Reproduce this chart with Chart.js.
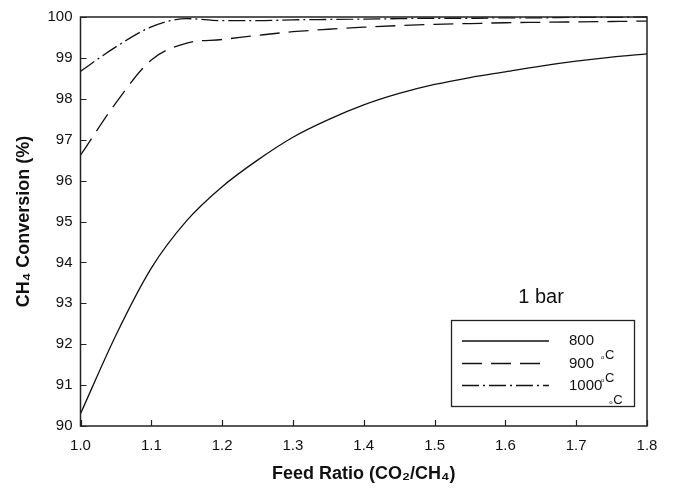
<!DOCTYPE html>
<html>
<head>
<meta charset="utf-8">
<script src="https://cdn.jsdelivr.net/npm/chart.js@4/dist/chart.umd.min.js"></script>
<style>
  html, body { margin: 0; padding: 0; background: #fff; }
  #wrap { width: 674px; height: 490px; position: relative; }
</style>
</head>
<body>
<div id="wrap"><canvas id="c" width="674" height="490"></canvas></div>
<script>
// ---- data ----
const feedRatio = [1.00, 1.05, 1.10, 1.15, 1.20, 1.25, 1.30, 1.35, 1.40, 1.45, 1.50, 1.55, 1.60, 1.65, 1.70, 1.75, 1.80];
const conv800  = [90.30, 92.22, 93.86, 95.02, 95.85, 96.50, 97.06, 97.49, 97.85, 98.13, 98.35, 98.52, 98.66, 98.80, 98.92, 99.02, 99.10];
const conv900  = [96.62, 97.90, 98.95, 99.36, 99.45, 99.55, 99.64, 99.70, 99.75, 99.79, 99.82, 99.84, 99.86, 99.87, 99.88, 99.89, 99.90];
const conv1000 = [98.67, 99.27, 99.76, 99.96, 99.91, 99.91, 99.93, 99.94, 99.95, 99.96, 99.97, 99.97, 99.98, 99.98, 99.99, 99.99, 100.0];
const seriesLabels = ['800', '900', '1000'];
const unitLabel = '°C';
const pressureLabel = '1 bar';
const xTitle = 'Feed Ratio (CO₂/CH₄)';
const yTitle = 'CH₄ Conversion (%)';

const dashes = [[], [20, 9], [17, 4, 2, 4]];
const seriesValues = [conv800, conv900, conv1000];

const datasets = seriesValues.map((vals, i) => ({
  label: seriesLabels[i] + unitLabel,
  data: feedRatio.map((x, k) => ({ x: x, y: vals[k] })),
  borderColor: '#111',
  borderWidth: 1.3,
  borderDash: dashes[i],
  pointRadius: 0,
  fill: false,
  cubicInterpolationMode: 'monotone',
  clip: 2
}));

const FONT = '"Liberation Sans", Arial, sans-serif';

const framePlugin = {
  id: 'frame',
  afterDatasetsDraw(chart) {
    const ctx = chart.ctx;
    const a = chart.chartArea;
    const xs = chart.scales.x, ys = chart.scales.y;
    ctx.save();
    ctx.strokeStyle = '#222';
    ctx.lineWidth = 1.5;
    ctx.setLineDash([]);
    ctx.strokeRect(a.left, a.top, a.right - a.left, a.bottom - a.top);
    ctx.lineWidth = 1.2;
    ctx.beginPath();
    xs.ticks.forEach(t => {
      const px = Math.round(xs.getPixelForValue(t.value)) + 0.5;
      ctx.moveTo(px, a.bottom);
      ctx.lineTo(px, a.bottom - 6);
    });
    ys.ticks.forEach(t => {
      const py = Math.round(ys.getPixelForValue(t.value)) + 0.5;
      ctx.moveTo(a.left, py);
      ctx.lineTo(a.left + 6, py);
    });
    ctx.stroke();

    // "1 bar" label
    ctx.fillStyle = '#111';
    ctx.font = '20px ' + FONT;
    ctx.textAlign = 'center';
    ctx.textBaseline = 'alphabetic';
    ctx.fillText(pressureLabel, 541, 303);

    // legend box
    ctx.lineWidth = 1.3;
    ctx.strokeStyle = '#222';
    ctx.strokeRect(451.5, 320.5, 183, 86);
    const rowY = [341, 363.5, 385.5];
    chart.data.datasets.forEach((ds, i) => {
      ctx.beginPath();
      ctx.setLineDash(ds.borderDash);
      ctx.lineWidth = 1.3;
      ctx.strokeStyle = '#111';
      ctx.moveTo(462, rowY[i]);
      ctx.lineTo(549, rowY[i]);
      ctx.stroke();
      ctx.setLineDash([]);
      ctx.font = '15px ' + FONT;
      ctx.textAlign = 'left';
      ctx.textBaseline = 'middle';
      ctx.fillStyle = '#111';
      const num = seriesLabels[i];
      ctx.fillText(num, 569, rowY[i]);
      const w = ctx.measureText(num).width;
      const bx = 569 + w + 7;
      const by = rowY[i] + 18;
      ctx.textBaseline = 'alphabetic';
      ctx.font = '6px ' + FONT;
      ctx.fillText('o', bx, by);
      ctx.font = '13px ' + FONT;
      ctx.fillText('C', bx + 4, by);
    });
    ctx.restore();
  }
};

new Chart(document.getElementById('c'), {
  type: 'line',
  data: { datasets: datasets },
  options: {
    responsive: false,
    animation: false,
    devicePixelRatio: 1,
    layout: { padding: { top: 15, right: 27, bottom: 0, left: 0 } },
    plugins: {
      legend: { display: false },
      tooltip: { enabled: false }
    },
    scales: {
      x: {
        type: 'linear',
        min: 1.0,
        max: 1.8,
        afterFit(s) { s.height = 64; },
        grid: { display: false, drawTicks: false },
        border: { display: false },
        ticks: {
          stepSize: 0.1,
          padding: 11,
          color: '#111',
          font: { family: FONT, size: 15 },
          maxRotation: 0,
          callback: v => Number(v).toFixed(1)
        },
        title: {
          display: true,
          text: xTitle,
          color: '#111',
          font: { family: FONT, size: 18, weight: 'bold' },
          padding: { top: 0, bottom: 5 }
        }
      },
      y: {
        min: 90,
        max: 100,
        afterFit(s) { s.width = 80.5; },
        grid: { display: false, drawTicks: false },
        border: { display: false },
        ticks: {
          stepSize: 1,
          padding: 8,
          color: '#111',
          font: { family: FONT, size: 15 }
        },
        title: {
          display: true,
          text: yTitle,
          color: '#111',
          font: { family: FONT, size: 18, weight: 'bold' },
          padding: { top: 13, bottom: 0 }
        }
      }
    }
  },
  plugins: [framePlugin]
});
</script>
</body>
</html>
